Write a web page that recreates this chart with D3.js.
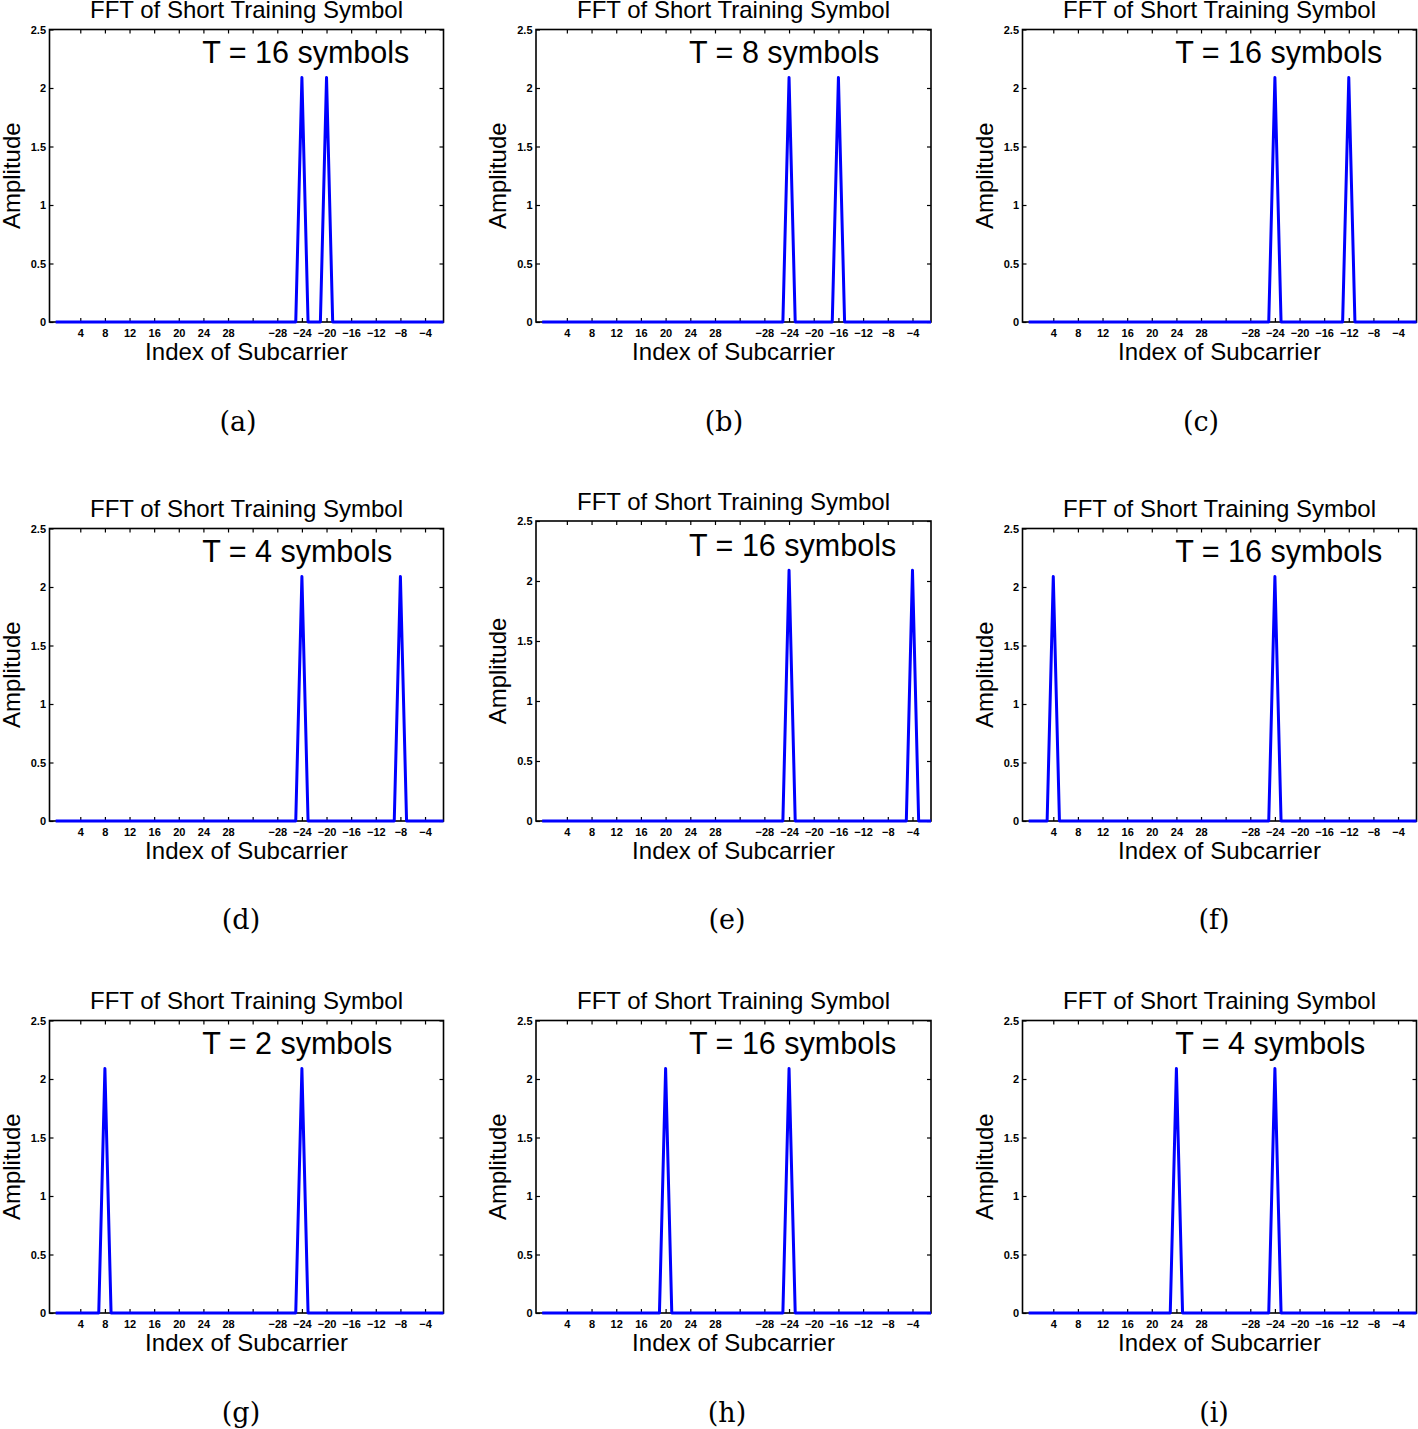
<!DOCTYPE html>
<html>
<head>
<meta charset="utf-8">
<script src="https://cdn.jsdelivr.net/npm/d3@7"></script>
<style>
  html, body { margin: 0; padding: 0; background: #ffffff; }
  svg { display: block; }
</style>
</head>
<body>
<svg id="chart" width="1418" height="1429"></svg>
<script>
// ---------------- DATA ----------------
// FFT bin positions (1..64) where ticks are drawn, and their subcarrier labels
const subcarrierTickPositions = [5, 9, 13, 17, 21, 25, 29, 33, 37, 41, 45, 49, 53, 57, 61];
const subcarrierTickLabels = ["4", "8", "12", "16", "20", "24", "28", "", "\u221228", "\u221224", "\u221220", "\u221216", "\u221212", "\u22128", "\u22124"];
const amplitudeTicks = [0, 0.5, 1, 1.5, 2, 2.5];
const amplitudeTickLabels = ["0", "0.5", "1", "1.5", "2", "2.5"];

const panelTitles = [
  "FFT of Short Training Symbol", "FFT of Short Training Symbol", "FFT of Short Training Symbol",
  "FFT of Short Training Symbol", "FFT of Short Training Symbol", "FFT of Short Training Symbol",
  "FFT of Short Training Symbol", "FFT of Short Training Symbol", "FFT of Short Training Symbol"
];
const panelAnnotations = [
  "T = 16 symbols", "T = 8 symbols", "T = 16 symbols",
  "T = 4 symbols", "T = 16 symbols", "T = 16 symbols",
  "T = 2 symbols", "T = 16 symbols", "T = 4 symbols"
];
const panelCaptions = ["(a)", "(b)", "(c)", "(d)", "(e)", "(f)", "(g)", "(h)", "(i)"];
const xLabel = "Index of Subcarrier";
const yLabel = "Amplitude";

// FFT bin index (x value) for each of the 64 amplitude samples
const fftBins = [
   1,  2,  3,  4,  5,  6,  7,  8,
   9, 10, 11, 12, 13, 14, 15, 16,
  17, 18, 19, 20, 21, 22, 23, 24,
  25, 26, 27, 28, 29, 30, 31, 32,
  33, 34, 35, 36, 37, 38, 39, 40,
  41, 42, 43, 44, 45, 46, 47, 48,
  49, 50, 51, 52, 53, 54, 55, 56,
  57, 58, 59, 60, 61, 62, 63, 64
];

// amplitude spectra, 64 samples each
const spectrumA = [0,0,0,0,0,0,0,0, 0,0,0,0,0,0,0,0, 0,0,0,0,0,0,0,0, 0,0,0,0,0,0,0,0, 0,0,0,0,0,0,0,0, 2.09,0,0,0,2.09,0,0,0, 0,0,0,0,0,0,0,0, 0,0,0,0,0,0,0,0];
const spectrumB = [0,0,0,0,0,0,0,0, 0,0,0,0,0,0,0,0, 0,0,0,0,0,0,0,0, 0,0,0,0,0,0,0,0, 0,0,0,0,0,0,0,0, 2.09,0,0,0,0,0,0,0, 2.09,0,0,0,0,0,0,0, 0,0,0,0,0,0,0,0];
const spectrumC = [0,0,0,0,0,0,0,0, 0,0,0,0,0,0,0,0, 0,0,0,0,0,0,0,0, 0,0,0,0,0,0,0,0, 0,0,0,0,0,0,0,0, 2.09,0,0,0,0,0,0,0, 0,0,0,0,2.09,0,0,0, 0,0,0,0,0,0,0,0];
const spectrumD = [0,0,0,0,0,0,0,0, 0,0,0,0,0,0,0,0, 0,0,0,0,0,0,0,0, 0,0,0,0,0,0,0,0, 0,0,0,0,0,0,0,0, 2.09,0,0,0,0,0,0,0, 0,0,0,0,0,0,0,0, 2.09,0,0,0,0,0,0,0];
const spectrumE = [0,0,0,0,0,0,0,0, 0,0,0,0,0,0,0,0, 0,0,0,0,0,0,0,0, 0,0,0,0,0,0,0,0, 0,0,0,0,0,0,0,0, 2.09,0,0,0,0,0,0,0, 0,0,0,0,0,0,0,0, 0,0,0,0,2.09,0,0,0];
const spectrumF = [0,0,0,0,2.09,0,0,0, 0,0,0,0,0,0,0,0, 0,0,0,0,0,0,0,0, 0,0,0,0,0,0,0,0, 0,0,0,0,0,0,0,0, 2.09,0,0,0,0,0,0,0, 0,0,0,0,0,0,0,0, 0,0,0,0,0,0,0,0];
const spectrumG = [0,0,0,0,0,0,0,0, 2.09,0,0,0,0,0,0,0, 0,0,0,0,0,0,0,0, 0,0,0,0,0,0,0,0, 0,0,0,0,0,0,0,0, 2.09,0,0,0,0,0,0,0, 0,0,0,0,0,0,0,0, 0,0,0,0,0,0,0,0];
const spectrumH = [0,0,0,0,0,0,0,0, 0,0,0,0,0,0,0,0, 0,0,0,0,2.09,0,0,0, 0,0,0,0,0,0,0,0, 0,0,0,0,0,0,0,0, 2.09,0,0,0,0,0,0,0, 0,0,0,0,0,0,0,0, 0,0,0,0,0,0,0,0];
const spectrumI = [0,0,0,0,0,0,0,0, 0,0,0,0,0,0,0,0, 0,0,0,0,0,0,0,0, 2.09,0,0,0,0,0,0,0, 0,0,0,0,0,0,0,0, 2.09,0,0,0,0,0,0,0, 0,0,0,0,0,0,0,0, 0,0,0,0,0,0,0,0];

const spectra = [spectrumA, spectrumB, spectrumC, spectrumD, spectrumE, spectrumF, spectrumG, spectrumH, spectrumI];

// ---------------- LAYOUT ----------------
const colLeft = [49.5, 536, 1022.5];
const colWidth = [394, 395, 394];
const rowTop = [29.5, 528.5, 1020.5];
const rowBottom = [322, 821, 1313];
const captionX = [238, 724, 1201, 241, 727, 1214, 241, 727, 1214];
const captionY = [431, 929, 1422];

const sans = "'Liberation Sans', Arial, Helvetica, sans-serif";
const svg = d3.select("#chart");

spectra.forEach((values, i) => {
  const col = i % 3, row = Math.floor(i / 3);
  const left = colLeft[col], right = left + colWidth[col];
  const top = (i === 4) ? 521 : rowTop[row];
  const bottom = rowBottom[row];

  const x = d3.scaleLinear().domain([0, 64]).range([left, right]);
  const y = d3.scaleLinear().domain([0, 2.5]).range([bottom, top]);

  const g = svg.append("g");

  const styleAxis = sel => {
    sel.select(".domain").remove();
    sel.selectAll(".tick line").attr("stroke", "#000").attr("stroke-width", 1.2);
    sel.selectAll(".tick text")
      .attr("font-family", sans).attr("font-size", 11).attr("font-weight", "bold").attr("fill", "#000");
  };

  g.append("g").attr("transform", `translate(0,${bottom})`)
    .call(d3.axisBottom(x).tickValues(subcarrierTickPositions)
      .tickFormat((d, j) => subcarrierTickLabels[j]).tickSize(-4).tickPadding(7))
    .call(styleAxis);
  g.append("g").attr("transform", `translate(0,${top})`)
    .call(d3.axisTop(x).tickValues(subcarrierTickPositions).tickFormat("").tickSize(-4))
    .call(styleAxis);
  g.append("g").attr("transform", `translate(${left},0)`)
    .call(d3.axisLeft(y).tickValues(amplitudeTicks)
      .tickFormat((d, j) => amplitudeTickLabels[j]).tickSize(-4).tickPadding(3.5))
    .call(styleAxis);
  g.append("g").attr("transform", `translate(${right},0)`)
    .call(d3.axisRight(y).tickValues(amplitudeTicks).tickFormat("").tickSize(-4))
    .call(styleAxis);

  g.append("rect")
    .attr("x", left).attr("y", top)
    .attr("width", right - left).attr("height", bottom - top)
    .attr("fill", "none").attr("stroke", "#000").attr("stroke-width", 1.6);

  const line = d3.line().x((d, k) => x(fftBins[k])).y(d => y(d));
  g.append("path").datum(values)
    .attr("d", line)
    .attr("fill", "none").attr("stroke", "#0000ff")
    .attr("stroke-width", 3).attr("stroke-linejoin", "round");

  g.append("text")
    .attr("x", (left + right) / 2).attr("y", top - 11.5)
    .attr("text-anchor", "middle")
    .attr("font-family", sans).attr("font-size", 24).attr("fill", "#000")
    .text(panelTitles[i]);

  g.append("text")
    .attr("x", x(24.8)).attr("y", y(2.21))
    .attr("font-family", sans).attr("font-size", 30.5).attr("fill", "#000")
    .text(panelAnnotations[i]);

  g.append("text")
    .attr("x", (left + right) / 2).attr("y", bottom + 38)
    .attr("text-anchor", "middle")
    .attr("font-family", sans).attr("font-size", 24).attr("fill", "#000")
    .text(xLabel);

  g.append("text")
    .attr("transform", `translate(${left - 30},${(top + bottom) / 2}) rotate(-90)`)
    .attr("text-anchor", "middle")
    .attr("font-family", sans).attr("font-size", 24).attr("fill", "#000")
    .text(yLabel);

  svg.append("text")
    .attr("x", captionX[i]).attr("y", captionY[row])
    .attr("text-anchor", "middle")
    .attr("font-family", "'DejaVu Serif', 'Liberation Serif', serif")
    .attr("font-size", 27).attr("fill", "#000")
    .text(panelCaptions[i]);
});
</script>
</body>
</html>
